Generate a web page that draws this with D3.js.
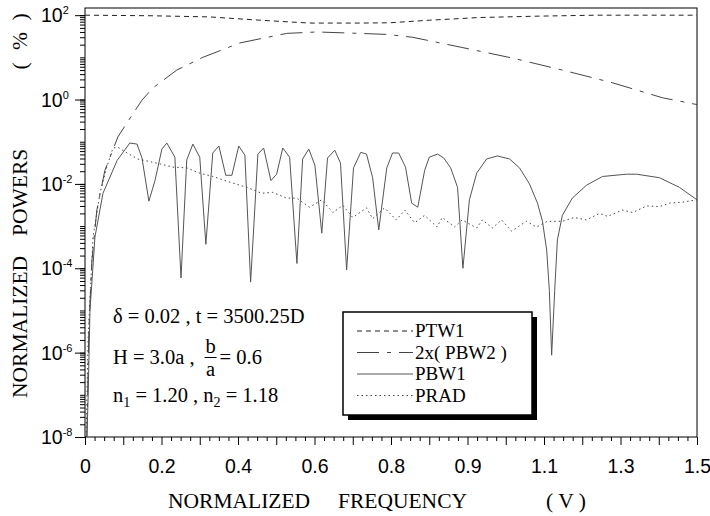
<!DOCTYPE html>
<html>
<head>
<meta charset="utf-8">
<script src="https://cdn.jsdelivr.net/npm/d3@7"></script>
<style>
  body { margin: 0; background: #fff; }
  svg { display: block; }
  .serif { font-family: "Liberation Serif", "Times New Roman", serif; }
  .sans { font-family: "Liberation Sans", Arial, sans-serif; }
</style>
</head>
<body>
<svg id="chart" width="710" height="516"></svg>
<script>
// tick labels exactly as printed on the original (evenly spaced on screen)
const xTicks = [0, 0.2, 0.4, 0.6, 0.8, 0.9, 1.1, 1.3, 1.5];
const xTickLabels = ["0", "0.2", "0.4", "0.6", "0.8", "0.9", "1.1", "1.3", "1.5"];
const yExponents = [2, 0, -2, -4, -6, -8];
const yDomain = [1e-8, 148];

// [V, %]
const ptw1 = [
  [0, 100], [0.17, 97], [0.326, 91], [0.457, 76], [0.587, 65], [0.718, 65],
  [0.796, 66], [0.85, 76], [0.931, 88], [1.088, 95], [1.237, 100], [1.5, 100]
];

const pbw2 = [
  [0.005, 1e-8], [0.01, 3.4e-6], [0.018, 1.5e-4], [0.031, 2.4e-3], [0.052, 2.1e-2],
  [0.086, 0.13], [0.123, 0.43], [0.149, 0.97], [0.178, 1.9], [0.24, 5.0],
  [0.308, 10], [0.405, 22], [0.527, 37], [0.606, 40], [0.718, 37], [0.789, 35],
  [0.828, 30], [0.894, 17], [1.018, 9.6], [1.148, 5.0], [1.279, 2.5],
  [1.41, 1.1], [1.5, 0.76]
];

const pbw1 = [
  [0.005, 1e-8], [0.008, 7.6e-8], [0.013, 1.0e-5], [0.026, 5.5e-4], [0.047, 6.0e-3],
  [0.084, 3.6e-2], [0.117, 9.3e-2], [0.136, 8.8e-2], [0.149, 4.1e-2], [0.167, 3.9e-3],
  [0.183, 1.2e-2], [0.201, 6.7e-2], [0.214, 9.3e-2], [0.235, 4.3e-2], [0.251, 5.9e-5],
  [0.266, 3.7e-2], [0.282, 8.8e-2], [0.3, 4.3e-2], [0.316, 3.7e-4], [0.334, 5.4e-2],
  [0.35, 7.9e-2], [0.368, 1.6e-2], [0.384, 1.6e-2], [0.402, 7.9e-2], [0.418, 4.8e-2],
  [0.433, 4.7e-5], [0.452, 5.1e-2], [0.467, 7.1e-2], [0.486, 1.2e-2], [0.501, 1.7e-2],
  [0.517, 7.1e-2], [0.535, 4.3e-2], [0.554, 1.3e-4], [0.569, 3.9e-2], [0.585, 6.7e-2],
  [0.601, 2.8e-2], [0.619, 6.8e-4], [0.634, 4.1e-2], [0.653, 6.3e-2], [0.668, 3.1e-2],
  [0.684, 9.1e-5], [0.702, 2.4e-2], [0.721, 5.6e-2], [0.736, 5.1e-2], [0.752, 1.4e-2],
  [0.768, 8.1e-4], [0.789, 2.4e-2], [0.802, 5.4e-2], [0.81, 5.4e-2], [0.819, 2.5e-2],
  [0.827, 3.5e-3], [0.835, 2.8e-3], [0.844, 2.1e-2], [0.85, 4.3e-2], [0.861, 5.1e-2],
  [0.869, 4.1e-2], [0.878, 2.4e-2], [0.887, 8.3e-3], [0.894, 1.0e-4], [0.905, 4.2e-3],
  [0.924, 1.8e-2], [0.95, 3.9e-2], [0.978, 4.6e-2], [1.01, 3.9e-2], [1.036, 2.4e-2],
  [1.062, 1.0e-2], [1.083, 3.5e-3], [1.096, 1.3e-3], [1.107, 2.7e-4], [1.114, 3.0e-5],
  [1.12, 8.7e-7], [1.128, 3.0e-5], [1.135, 4.7e-4], [1.148, 1.8e-3], [1.174, 4.6e-3],
  [1.211, 9.3e-3], [1.253, 1.5e-2], [1.316, 1.7e-2], [1.342, 1.7e-2], [1.402, 1.4e-2],
  [1.454, 8.3e-3], [1.5, 4.2e-3]
];

const prad = [
  [0.003, 1e-8], [0.008, 2.0e-6], [0.013, 1.8e-5], [0.021, 5.5e-4], [0.039, 6.0e-3],
  [0.057, 2.5e-2], [0.073, 7.1e-2], [0.086, 7.4e-2], [0.11, 5.4e-2], [0.138, 3.9e-2],
  [0.188, 3.1e-2], [0.23, 2.5e-2], [0.266, 2.4e-2], [0.3, 1.8e-2], [0.334, 1.5e-2],
  [0.379, 1.1e-2], [0.423, 8.3e-3], [0.462, 6.0e-3], [0.491, 6.3e-3], [0.527, 4.6e-3],
  [0.554, 4.6e-3], [0.587, 2.8e-3], [0.619, 4.2e-3], [0.648, 2.1e-3], [0.674, 3.1e-3],
  [0.7, 1.6e-3], [0.736, 2.7e-3], [0.752, 1.5e-3], [0.783, 2.7e-3], [0.807, 1.4e-3],
  [0.818, 2.4e-3], [0.831, 1.2e-3], [0.844, 1.8e-3], [0.86, 9.5e-4], [0.867, 1.6e-3],
  [0.883, 9.5e-4], [0.893, 1.4e-3], [0.924, 9.0e-4], [0.939, 1.4e-3], [0.965, 9.0e-4],
  [0.989, 1.4e-3], [1.015, 7.6e-4], [1.054, 1.3e-3], [1.08, 9.5e-4], [1.109, 1.3e-3],
  [1.148, 1.3e-3], [1.179, 1.6e-3], [1.211, 1.4e-3], [1.245, 2.0e-3], [1.266, 1.7e-3],
  [1.305, 2.4e-3], [1.332, 2.1e-3], [1.368, 3.0e-3], [1.402, 2.9e-3], [1.428, 3.5e-3],
  [1.462, 3.7e-3], [1.5, 4.2e-3]
];

const seriesNames = ["PTW1", "2x( PBW2 )", "PBW1", "PRAD"];

const svg = d3.select("#chart");
const plotL = 85, plotR = 697, plotT = 8, plotB = 437;

const x = d3.scaleLinear()
  .domain(xTicks)
  .range(xTicks.map((d, i) => plotL + i * (plotR - plotL) / (xTicks.length - 1)));
const y = d3.scaleLog().domain(yDomain).range([plotB, plotT]);

// x ticks: 2 major + 3 minor per step between labels
const xMajor = [], xMinor = [];
d3.pairs(xTicks).forEach(([a, b]) => {
  for (let k = 0; k < 8; k++) {
    const v = a + (b - a) * k / 8;
    (k % 4 === 0 ? xMajor : xMinor).push(v);
  }
});
xMajor.push(xTicks[xTicks.length - 1]);

const yMinor = [];
for (let e = -8; e <= 2; e++) {
  for (let m = 1; m < 10; m++) {
    const v = m * Math.pow(10, e);
    if (v <= yDomain[1]) yMinor.push(v);
  }
}
const yMajor = yExponents.map(e => Math.pow(10, e));

const gx = svg.append("g").attr("transform", `translate(0,${plotB})`);
gx.append("g").call(d3.axisBottom(x).tickValues(xMinor).tickSize(4).tickSizeOuter(0).tickFormat(""));
gx.append("g")
  .call(d3.axisBottom(x).tickValues(xMajor).tickSize(8).tickSizeOuter(0)
    .tickPadding(14)
    .tickFormat(d => { const i = xTicks.indexOf(d); return i < 0 ? "" : xTickLabels[i]; }));
gx.selectAll(".domain").remove();
gx.selectAll("line").attr("stroke", "#000");
gx.selectAll("text")
  .attr("class", "sans").attr("font-size", 19.5).attr("fill", "#000");
gx.selectAll("g").attr("font-family", null).attr("font-size", null);

const gy = svg.append("g").attr("transform", `translate(${plotL},0)`);
gy.append("g").call(d3.axisLeft(y).tickValues(yMinor).tickSize(5).tickSizeOuter(0).tickFormat(""));
gy.append("g").call(d3.axisLeft(y).tickValues(yMajor).tickSize(10).tickSizeOuter(0).tickFormat(""));
gy.selectAll(".domain").remove();
gy.selectAll("line").attr("stroke", "#000");

// 10^n labels
const yl = svg.append("g").attr("class", "sans").attr("fill", "#000");
yExponents.forEach(e => {
  const t = yl.append("text")
    .attr("x", 41)
    .attr("y", y(Math.pow(10, e)) + 7)
    .attr("font-size", 19.5);
  t.append("tspan").text("10");
  t.append("tspan").attr("font-size", 11).attr("dy", -8).text(e);
});

// frame
svg.append("rect")
  .attr("x", plotL).attr("y", plotT)
  .attr("width", plotR - plotL).attr("height", plotB - plotT)
  .attr("fill", "none").attr("stroke", "#000").attr("stroke-width", 1);

const line = d3.line().x(d => x(d[0])).y(d => y(d[1]));
const styles = [
  { data: ptw1, dash: "5,4", color: "#222" },
  { data: pbw2, dash: "22,8,4,8", color: "#444" },
  { data: pbw1, dash: null, color: "#555" },
  { data: prad, dash: "1.5,3", color: "#444" }
];

const plot = svg.append("g");
styles.forEach(s => {
  plot.append("path")
    .datum(s.data)
    .attr("d", line)
    .attr("fill", "none")
    .attr("stroke", s.color)
    .attr("stroke-width", 1)
    .attr("stroke-dasharray", s.dash);
});

// axis titles
const xt = svg.append("g").attr("class", "serif").attr("font-size", 21.5).attr("fill", "#000");
xt.append("text").attr("x", 168).attr("y", 508).text("NORMALIZED");
xt.append("text").attr("x", 338).attr("y", 508).text("FREQUENCY");
xt.append("text").attr("x", 546).attr("y", 508).text("( V )");

const ytg = svg.append("g").attr("class", "serif").attr("font-size", 21.5).attr("fill", "#000")
  .attr("transform", "translate(27,0)");
[["NORMALIZED", 398, "start"], ["POWERS", 236, "start"],
 ["(", 66, "middle"], ["%", 41, "middle"], [")", 17, "middle"]].forEach(([s, yy, a]) => {
  ytg.append("text").attr("transform", `translate(0,${yy}) rotate(-90)`)
    .attr("text-anchor", a).text(s);
});

// annotation
const ann = svg.append("g").attr("class", "serif").attr("font-size", 20.5).attr("fill", "#000");
ann.append("text").attr("x", 113).attr("y", 323).text("δ = 0.02 , t = 3500.25D");
const h1 = ann.append("text").attr("x", 113).attr("y", 364).text("H = 3.0a ,");
const fx = 113 + h1.node().getComputedTextLength() + 10;
ann.append("text").attr("x", fx + 6).attr("y", 353).attr("text-anchor", "middle").text("b");
ann.append("line").attr("x1", fx).attr("x2", fx + 12).attr("y1", 357.5).attr("y2", 357.5)
  .attr("stroke", "#000").attr("stroke-width", 1);
ann.append("text").attr("x", fx + 6).attr("y", 376).attr("text-anchor", "middle").text("a");
ann.append("text").attr("x", fx + 15).attr("y", 364).text("= 0.6");
const n = ann.append("text").attr("x", 113).attr("y", 402);
n.append("tspan").text("n");
n.append("tspan").attr("font-size", 14).attr("dy", 5).text("1");
n.append("tspan").attr("dy", -5).text(" = 1.20 , n");
n.append("tspan").attr("font-size", 14).attr("dy", 5).text("2");
n.append("tspan").attr("dy", -5).text(" = 1.18");

// legend
const lg = svg.append("g").attr("transform", "translate(343,312)");
lg.append("rect").attr("x", 5).attr("y", 5).attr("width", 189).attr("height", 103).attr("fill", "#000");
lg.append("rect").attr("width", 189).attr("height", 103)
  .attr("fill", "#fff").attr("stroke", "#000").attr("stroke-width", 1.5);
seriesNames.forEach((name, i) => {
  const yy = 19 + i * 21.5;
  lg.append("line").attr("x1", 14).attr("x2", 70).attr("y1", yy).attr("y2", yy)
    .attr("stroke", styles[i].color).attr("stroke-width", 1)
    .attr("stroke-dasharray", styles[i].dash);
  lg.append("text").attr("class", "serif").attr("font-size", 19)
    .attr("x", 72).attr("y", yy + 6).text(name);
});
</script>
</body>
</html>
